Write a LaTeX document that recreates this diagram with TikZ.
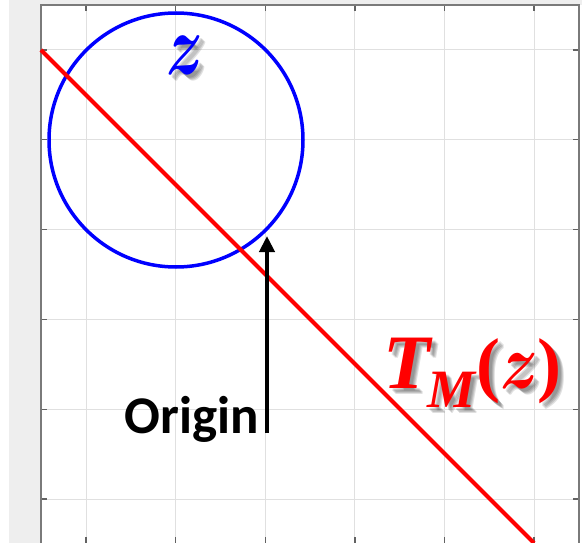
\RequirePackage{fix-cm}
\documentclass[tikz,border=0pt]{standalone}
\usepackage{fontspec}
\usepackage{graphicx}
\newfontfamily\carl{Carlito}
\newfontfamily\lserif{Liberation Serif}
\usetikzlibrary{arrows.meta}
\definecolor{bggray}{HTML}{EEEEEE}
\definecolor{gridgray}{HTML}{E0E0E0}
\definecolor{axgray}{HTML}{7A7A7A}
\definecolor{pureblue}{RGB}{0,0,255}
\definecolor{purered}{RGB}{255,0,0}
\newcommand{\tmlabel}{{\lserif\bfseries\itshape\fontsize{77}{77}\selectfont T\kern-3pt\raisebox{-19pt}{\fontsize{54}{54}\selectfont M}\kern1pt{\upshape\fontsize{72}{72}\selectfont(}\kern0pt\scalebox{0.82}[1]{\fontsize{78}{78}\selectfont\boldmath$z$}\kern-1pt{\upshape\fontsize{72}{72}\selectfont)}}}
\newcommand{\zlabel}{{\scalebox{0.72}[1]{\fontsize{86}{86}\selectfont\boldmath$z$}}}
\begin{document}
\begin{tikzpicture}[x=1pt,y=-1pt,
  gridline/.style={draw=gridgray,line width=1pt},
  axisline/.style={draw=axgray,line width=1.2pt},
  tickline/.style={draw=axgray!80!black,line width=1.4pt},
  shadowtxt/.style={inner sep=0,text=black,text opacity=0.12},
  lbl/.style={inner sep=0}]
\useasboundingbox (0,0) rectangle (582,543);
\fill[white] (0,0) rectangle (582,543);
\fill[bggray] (9,0) rectangle (582,5);
\fill[bggray] (9,0) rectangle (41,543);
% grid
\foreach \i in {0,...,5}{
  \draw[gridline] ({86+89.6*\i},5) -- ({86+89.6*\i},543);
  \draw[gridline] (41,{50+89.8*\i}) -- (579,{50+89.8*\i});
  \draw[tickline] (41,{50+89.8*\i}) -- (47,{50+89.8*\i});
  \draw[tickline] (579,{50+89.8*\i}) -- (573,{50+89.8*\i});
  \draw[tickline] ({86+89.6*\i},5) -- ({86+89.6*\i},11);
  \draw[tickline] ({86+89.6*\i},543) -- ({86+89.6*\i},537);
}
\draw[axisline] (41,543) -- (41,5) -- (579,5) -- (579,543);
% circle z
\node[draw=pureblue, line width=3.5pt, circle, minimum size=254pt, inner sep=0] (zcircle) at (176,140) {};
% red line
\coordinate (lineA) at (41,50);
\coordinate (lineB) at (534,543);
\draw[purered, line width=4pt] (lineA) -- (lineB);
% arrow
\coordinate (arrbot) at (267,433);
\coordinate (arrtop) at (267,236);
\draw[line width=4pt, -{Triangle[length=16pt,width=15pt]}] (arrbot) -- (arrtop);
% Origin
\node[lbl, anchor=base west, font=\carl\bfseries\fontsize{53}{53}\selectfont] (origin) at (124.5,433) {Origin};
% shadows
\foreach \dx/\dy [count=\k] in {3/3,4/4,5/5,6/6}{
  \node[shadowtxt, anchor=base west] (tmshadow\k) at ({383+\dx},{388+\dy}) {\tmlabel};
  \node[shadowtxt, anchor=base west] (zshadow\k) at ({166+\dx},{75+\dy}) {\zlabel};
}
\node[lbl, anchor=base west, text=purered] (tm) at (383,388) {\tmlabel};
\node[lbl, anchor=base west, text=pureblue] (zlab) at (166,75) {\zlabel};
\end{tikzpicture}
\end{document}
